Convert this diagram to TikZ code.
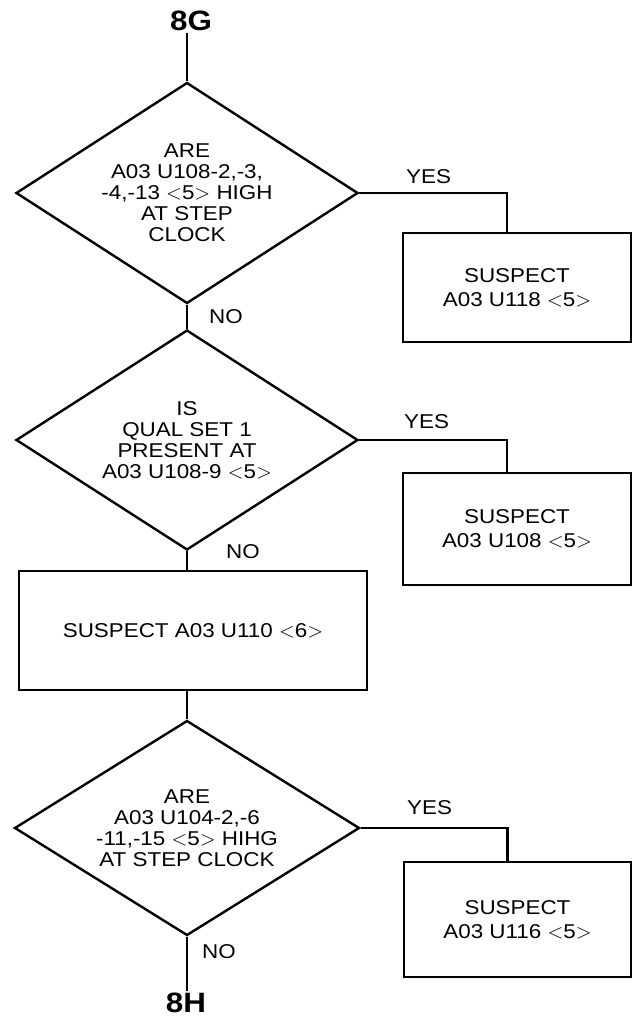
\documentclass[tikz,border=0pt]{standalone}
\usepackage{fontspec}
\setmainfont[FakeStretch=1.12]{Liberation Sans}
\usetikzlibrary{shapes.geometric}
\begin{document}
\begin{tikzpicture}[x=1pt, y=-1pt,
    box/.style={rectangle, draw, line width=2.6pt, inner sep=0pt, align=center, font=\fontsize{20}{24}\selectfont},
    decision/.style={diamond, draw, line width=2.4pt, aspect=1.55, inner sep=0pt, align=center, font=\fontsize{20}{21}\selectfont},
    tag/.style={anchor=west, inner sep=0pt, font=\fontsize{20}{21}\selectfont},
    term/.style={inner sep=2pt, font=\fontsize{28}{30}\selectfont\bfseries},
    link/.style={line width=2.4pt}
]
\useasboundingbox (0,0) rectangle (632,1019);

\node[term] (start) at (191,21) {8G};
\node[decision, minimum width=342pt, minimum height=221pt] (q1) at (187,193) {ARE\\A03 U108-2,-3,\\-4,-13 $<$5$>$ HIGH\\AT STEP\\CLOCK};
\node[box, minimum width=228pt, minimum height=109pt] (s1) at (517,287.5) {SUSPECT\\A03 U118 $<$5$>$};
\node[decision, minimum width=342pt, minimum height=220pt] (q2) at (187,440) {IS\\QUAL SET 1\\PRESENT AT\\A03 U108-9 $<$5$>$};
\node[box, minimum width=228pt, minimum height=112pt] (s2) at (517,529) {SUSPECT\\A03 U108 $<$5$>$};
\node[box, minimum width=348pt, minimum height=119pt] (s3) at (193,630.5) {SUSPECT A03 U110 $<$6$>$};
\node[decision, minimum width=345pt, minimum height=215pt] (q3) at (187,828) {ARE\\A03 U104-2,-6\\-11,-15 $<$5$>$ HIHG\\AT STEP CLOCK};
\node[box, minimum width=227pt, minimum height=115pt] (s4) at (517.5,919.5) {SUSPECT\\A03 U116 $<$5$>$};
\node[term] (next) at (186,1003) {8H};

\node[tag] (yes1) at (406,177) {YES};
\node[tag] (yes2) at (404,422) {YES};
\node[tag] (yes3) at (407,808) {YES};
\node[tag] (no1) at (209,317) {NO};
\node[tag] (no2) at (226,552) {NO};
\node[tag] (no3) at (202,952) {NO};

\draw[link] (start.south -| q1.north) -- (q1.north);
\draw[link] (q1.south) -- (q2.north);
\draw[link] (q2.south) -- (q2.south |- s3.north);
\draw[link] (q3.north |- s3.south) -- (q3.north);
\draw[link] (q3.south) -- (q3.south |- next.north);
\draw[link] (q1.east) -| ([xshift=-10pt]s1.north);
\draw[link] (q2.east) -| ([xshift=-10pt]s2.north);
\draw[link] (q3.east) -| ([xshift=-10pt]s4.north);
\end{tikzpicture}
\end{document}
